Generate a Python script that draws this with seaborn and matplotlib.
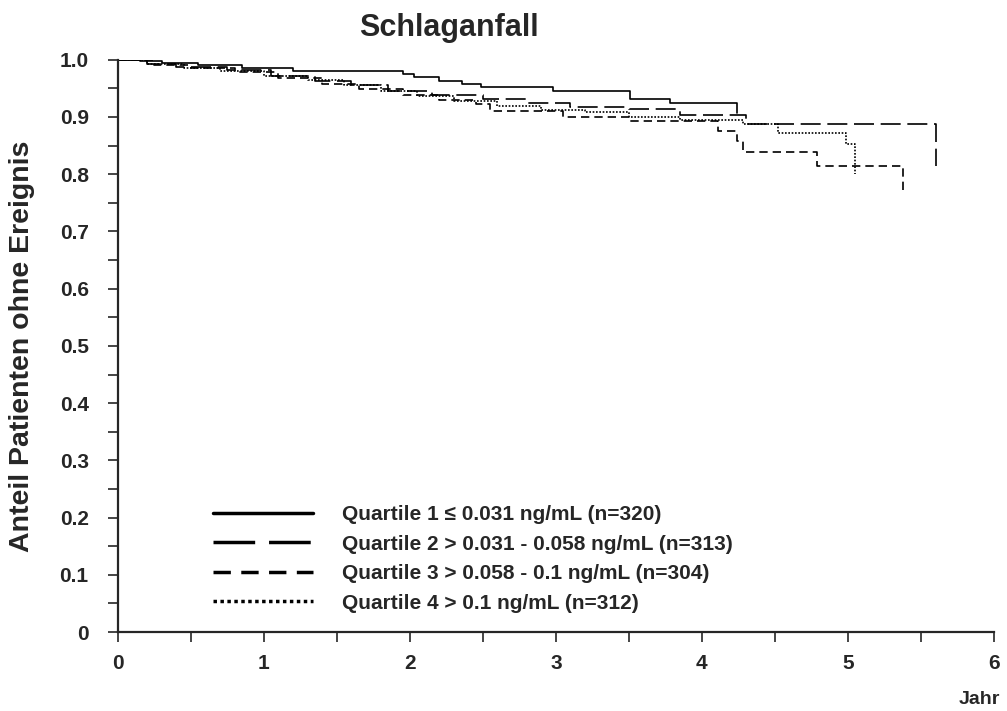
"""
Kaplan-Meier Kurven: Schlaganfall nach Quartilen.
"""

import pandas as pd
import matplotlib
matplotlib.use("Agg")
import matplotlib.pyplot as plt
from matplotlib.ticker import MultipleLocator, FuncFormatter
import seaborn as sns

# Daten
labels = [
    "Quartile 1 \u2264 0.031 ng/mL (n=320)",
    "Quartile 2 > 0.031 - 0.058 ng/mL (n=313)",
    "Quartile 3 > 0.058 - 0.1 ng/mL (n=304)",
    "Quartile 4 > 0.1 ng/mL (n=312)",
]

q1_t = [0, 0.15, 0.3, 0.55, 0.85, 1.2, 1.95, 2.03, 2.2, 2.36, 2.49, 2.98, 3.51, 3.78, 4.24]
q1_s = [1.0, 0.997, 0.994, 0.99, 0.985, 0.981, 0.975, 0.969, 0.962, 0.958, 0.953, 0.946, 0.932, 0.925, 0.907]

q2_t = [0, 0.2, 0.4, 0.75, 1.05, 1.35, 1.6, 1.85, 2.15, 2.5, 2.8, 3.1, 3.5, 3.85, 4.3, 5.6]
q2_s = [1.0, 0.993, 0.988, 0.982, 0.972, 0.962, 0.955, 0.945, 0.938, 0.932, 0.925, 0.918, 0.914, 0.904, 0.888, 0.815]

q3_t = [0, 0.25, 0.5, 0.8, 1.1, 1.4, 1.65, 1.95, 2.2, 2.45, 2.55, 3.05, 3.5, 4.11, 4.24, 4.28, 4.79, 5.38]
q3_s = [1.0, 0.99, 0.985, 0.978, 0.968, 0.958, 0.948, 0.938, 0.93, 0.922, 0.91, 0.9, 0.893, 0.876, 0.858, 0.839, 0.815, 0.769]

q4_t = [0, 0.2, 0.45, 0.7, 1.0, 1.3, 1.55, 1.8, 2.05, 2.3, 2.6, 2.9, 3.2, 3.5, 3.85, 4.28, 4.52, 4.99, 5.05]
q4_s = [1.0, 0.992, 0.986, 0.98, 0.972, 0.964, 0.955, 0.945, 0.937, 0.928, 0.92, 0.913, 0.908, 0.9, 0.895, 0.888, 0.872, 0.853, 0.80]

x_ticks = [0, 1, 2, 3, 4, 5, 6]
y_ticks = [0, 0.1, 0.2, 0.3, 0.4, 0.5, 0.6, 0.7, 0.8, 0.9, 1.0]

sns.set_style("ticks")
plt.rcParams["font.family"] = ["Liberation Sans", "DejaVu Sans"]
plt.rcParams["font.weight"] = "bold"

frames = []
for lab, t, s in zip(labels, [q1_t, q2_t, q3_t, q4_t], [q1_s, q2_s, q3_s, q4_s]):
    frames.append(pd.DataFrame({"Jahr": t, "Anteil": s, "Gruppe": lab}))
df = pd.concat(frames, ignore_index=True)

dashes = {
    labels[0]: "",
    labels[1]: (12, 4),
    labels[2]: (5, 3),
    labels[3]: (1, 1),
}

fig = plt.figure(figsize=(10.07, 7.11), dpi=100)
ax = fig.add_axes([0.117, 0.111, 0.870, 0.805])

sns.lineplot(data=df, x="Jahr", y="Anteil", hue="Gruppe", style="Gruppe",
             palette=["black"] * 4, dashes=dashes, drawstyle="steps-post",
             estimator=None, sort=False, linewidth=1.2, ax=ax, legend=False)

ax.set_xlim(0, 6)
ax.set_ylim(0, 1.0)
ax.set_xticks(x_ticks)
ax.set_yticks(y_ticks)
ax.xaxis.set_minor_locator(MultipleLocator(0.5))
ax.yaxis.set_minor_locator(MultipleLocator(0.05))
ax.yaxis.set_major_formatter(FuncFormatter(lambda v, p: "0" if v == 0 else f"{v:.1f}"))
ax.tick_params(which="both", direction="out", length=7, width=1.2, labelsize=15)
ax.tick_params(axis="y", pad=14)
ax.tick_params(axis="x", pad=9)
for lbl in ax.get_xticklabels() + ax.get_yticklabels():
    lbl.set_fontweight("bold")

sns.despine(ax=ax)
for sp in ["left", "bottom"]:
    ax.spines[sp].set_linewidth(1.6)

ax.set_xlabel("")
ax.set_ylabel("Anteil Patienten ohne Ereignis", fontsize=20.5, fontweight="bold")
ax.yaxis.set_label_coords(-0.094, 0.5)

leg = ax.legend(ax.lines, labels, loc="upper left", bbox_to_anchor=(0.099, 0.236),
                frameon=False, fontsize=15, handlelength=4.8, handletextpad=1.4,
                labelspacing=0.5, borderaxespad=0)
for line in leg.get_lines():
    line.set_linewidth(2.5)
for txt in leg.get_texts():
    txt.set_fontweight("bold")

fig.text(0.446, 1 - 28 / 711, "Schlaganfall", ha="center", va="center",
         fontsize=22, fontweight="bold")
fig.text(0.993, 1 - 700 / 711, "Jahr", ha="right", va="center",
         fontsize=14, fontweight="bold")

fig.savefig("out.png", dpi=100)
